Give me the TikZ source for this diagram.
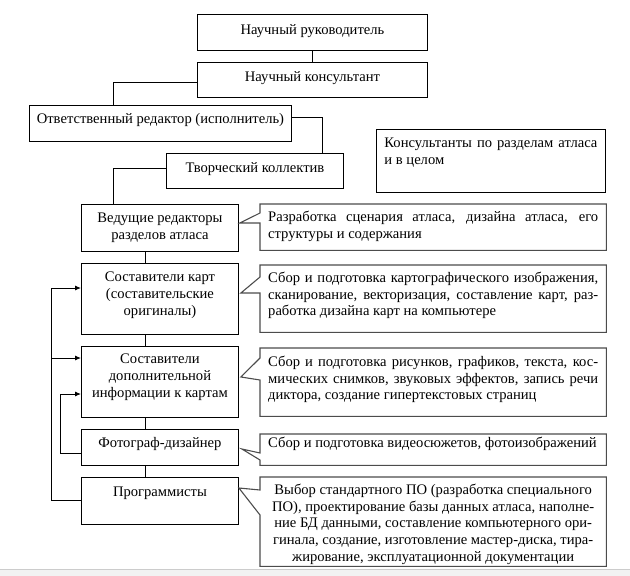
\documentclass[tikz,border=0pt]{standalone}
\usepackage{fontspec}
\setmainfont{Liberation Serif}
\usetikzlibrary{arrows.meta,calc}
\newcommand\bxt[4]{\parbox[c][#2][t]{#1}{\centering\rule{0pt}{#3}#4\par}}
\newcommand\cxt[4]{\parbox[c][#2][t]{#1}{\rule{0pt}{#3}#4\par}}
\newcommand\jl[1]{\makebox[\linewidth][s]{#1}}
\begin{document}
\begin{tikzpicture}[x=1pt,y=-1pt,
  font=\fontsize{14.6pt}{16.6pt}\selectfont,
  box/.style={draw, line width=0.9pt, inner sep=0pt, anchor=north west},
  callout/.style={inner xsep=8pt, inner ysep=0pt, anchor=north west},
  cshape/.style={draw=black!70, line width=1.1pt, line join=miter},
  conn/.style={line width=0.9pt},
  arr/.style={conn, -{Latex[length=6pt,width=5pt]}}]
\useasboundingbox (0,0) rectangle (630,576);
\fill[gray!10] (0,569) rectangle (630,576);
\draw[gray!40, line width=0.6pt] (0,569) -- (630,569);

% top chain
\node[box] (b1) at (197,14) {\bxt{230pt}{36pt}{20pt}{Научный руководитель}};
\node[box] (b2) at (197,62) {\bxt{230pt}{35pt}{19.5pt}{Научный консультант}};
\node[box] (b3) at (29,105) {\bxt{262pt}{36pt}{18.5pt}{Ответственный редактор (исполнитель)}};
\node[box] (b4) at (166,153) {\bxt{177pt}{35pt}{19.5pt}{Творческий коллектив}};
\node[box, inner xsep=8pt] (k) at (376,129) {\cxt{213pt}{63pt}{18.5pt}{\jl{Консультанты по разделам атласа}\\и в целом}};

% left column
\node[box] (l1) at (81,204) {\bxt{157pt}{47pt}{18.5pt}{Ведущие редакторы\\разделов атласа}};
\node[box] (l2) at (81,263) {\bxt{157pt}{71pt}{18.5pt}{Составители карт\\(составительские\\оригиналы)}};
\node[box] (l3) at (81,346) {\bxt{157pt}{71pt}{17.5pt}{Составители\\дополнительной\\информации к картам}};
\node[box] (l4) at (81,429) {\bxt{157pt}{36pt}{18.5pt}{Фотограф-дизайнер}};
\node[box] (l5) at (81,477) {\bxt{157pt}{47pt}{19.5pt}{Программисты}};

% callouts
\node[callout] (c1) at (260,204) {\cxt{330pt}{46pt}{17.5pt}{\jl{Разработка сценария атласа, дизайна атласа, его}\\структуры и содержания}};
\node[callout] (c2) at (260,265) {\cxt{330pt}{67pt}{17.5pt}{\jl{Сбор и подготовка картографического изображения,}\\\jl{сканирование, векторизация, составление карт, раз-}\\работка дизайна карт на компьютере}};
\node[callout] (c3) at (260,348) {\cxt{330pt}{68pt}{18.5pt}{\jl{Сбор и подготовка рисунков, графиков, текста, кос-}\\\jl{мических снимков, звуковых эффектов, запись речи}\\диктора, создание гипертекстовых страниц}};
\node[callout] (c4) at (260,434) {\cxt{330pt}{31pt}{13.5pt}{Сбор и подготовка видеосюжетов, фотоизображений}};
\node[callout] (c5) at (260,477) {\bxt{330pt}{89pt}{17.5pt}{Выбор стандартного ПО (разработка специального\\ПО), проектирование базы данных атласа, наполне-\\ние БД данными, составление компьютерного ори-\\гинала, создание, изготовление мастер-диска, тира-\\жирование, эксплуатационной документации}};

% callout tips
\coordinate (t1) at ($(l1.north east)+(1,19)$);
\coordinate (t2) at ($(l2.north east)+(2,30)$);
\coordinate (t3) at ($(l3.north east)+(2,31)$);
\coordinate (t4) at ($(l4.north east)+(3,20)$);
\coordinate (t5) at ($(l5.north east)+(0,11)$);

\draw[cshape] (c1.north west) -- (c1.north east) -- (c1.south east) -- (c1.south west) -- ($(c1.north west)+(0,19)$) -- (t1) -- ($(c1.north west)+(0,9)$) -- cycle;
\draw[cshape] (c2.north west) -- (c2.north east) -- (c2.south east) -- (c2.south west) -- ($(c2.north west)+(0,28)$) -- (t2) -- ($(c2.north west)+(0,12)$) -- cycle;
\draw[cshape] (c3.north west) -- (c3.north east) -- (c3.south east) -- (c3.south west) -- ($(c3.north west)+(0,32)$) -- (t3) -- ($(c3.north west)+(0,10)$) -- cycle;
\draw[cshape] (c4.north west) -- (c4.north east) -- (c4.south east) -- (c4.south west) -- ($(c4.north west)+(0,26)$) -- (t4) -- ($(c4.north west)+(0,19)$) -- cycle;
\draw[cshape] (c5.north west) -- (c5.north east) -- (c5.south east) -- (c5.south west) -- ($(c5.north west)+(0,38)$) -- (t5) -- ($(c5.north west)+(0,13)$) -- cycle;

% connectors
\draw[conn] (b1.south) -- (b2.north);
\draw[conn] ($(b2.north west)+(0,20)$) -| ($(b3.north west)+(84,0)$);
\draw[conn] ($(b3.north east)+(0,12)$) -| ($(b4.north west)+(156,0)$);
\draw[conn] ($(b4.north east)+(0,15)$) -- ($(b4.north east)+(0,15)$ -| k.west);
\draw[conn] ($(b4.north west)+(0,15)$) -| ($(l1.north west)+(32,0)$);
\draw[conn] ($(l1.south west)+(64,0)$) -- ($(l2.north west)+(64,0)$);
\draw[conn] ($(l2.south west)+(64,0)$) -- ($(l3.north west)+(64,0)$);
\draw[conn] ($(l3.south west)+(64,0)$) -- ($(l4.north west)+(64,0)$);
\draw[conn] ($(l4.south west)+(64,0)$) -- ($(l5.north west)+(64,0)$);

% feedback arrows
\draw[arr] ($(l5.north west)+(0,23)$) -- ++(-30,0) |- ($(l2.north west)+(0,25)$);
\draw[arr] ($(l3.north west)+(-30,12)$) -- ($(l3.north west)+(0,12)$);
\draw[arr] ($(l4.north west)+(0,24)$) -- ++(-21,0) |- ($(l3.north west)+(0,48)$);
\end{tikzpicture}
\end{document}
